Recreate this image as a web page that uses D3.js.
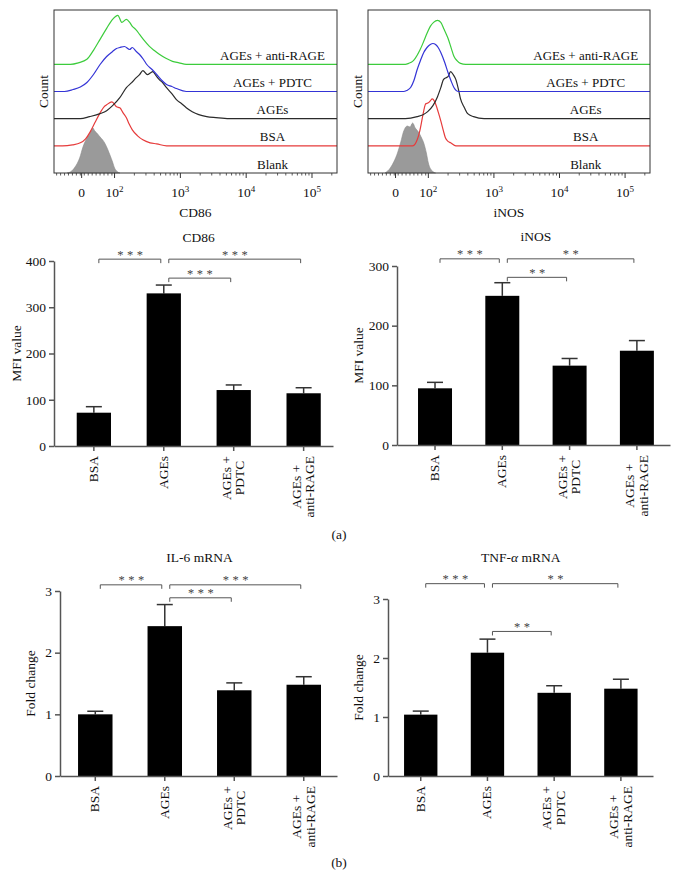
<!DOCTYPE html>
<html><head><meta charset="utf-8">
<script src="https://cdn.jsdelivr.net/npm/d3@7"></script>
<style>
body{margin:0;background:#fff}
svg{display:block}
text{font-family:"Liberation Serif","Times New Roman",serif;fill:#111}
</style>
</head><body><svg id="c" width="679" height="879"></svg>
<script>
// ---------------- DATA ----------------
// Flow histograms: [display decade (log10 units; "0" shown at 1.5), count % of max]
const histLabels = ["Blank", "BSA", "AGEs", "AGEs + PDTC", "AGEs + anti-RAGE"];
const histColors = ["#9a9a9a", "#e63b3b", "#2b2b2b", "#3434d6", "#3ccc3c"];
const histTickVals = [1.5, 2, 3, 4, 5];
const histTickLabels = [["0", ""], ["10", "2"], ["10", "3"], ["10", "4"], ["10", "5"]];

const cd86Blank = [[1.28,0],[1.34,3],[1.40,12],[1.47,30],[1.52,52],[1.58,70],[1.63,80],[1.67,90],[1.70,84],[1.73,80],[1.78,72],[1.82,66],[1.85,60],[1.90,46],[1.93,36],[1.97,22],[2.00,10],[2.04,3],[2.08,0]];
const cd86BSA = [[1.21,0],[1.36,2],[1.48,6],[1.56,14],[1.63,28],[1.70,46],[1.78,66],[1.84,78],[1.88,82],[1.96,88],[2.03,78],[2.08,76],[2.13,66],[2.18,56],[2.22,44],[2.27,32],[2.35,20],[2.43,12],[2.54,6],[2.64,4],[2.79,0]];
const cd86AGEs = [[1.48,0],[1.62,4],[1.78,10],[1.88,16],[1.97,26],[2.08,42],[2.18,62],[2.26,72],[2.33,82],[2.38,88],[2.43,96],[2.50,88],[2.55,92],[2.58,94],[2.63,86],[2.68,78],[2.73,72],[2.79,62],[2.87,50],[2.94,38],[3.02,30],[3.09,22],[3.18,14],[3.28,8],[3.40,4],[3.54,2],[3.74,0]];
const cd86PDTC = [[1.24,0],[1.37,4],[1.48,9],[1.58,18],[1.68,34],[1.78,54],[1.88,70],[1.97,80],[2.03,86],[2.08,88],[2.15,90],[2.23,84],[2.27,88],[2.33,80],[2.38,74],[2.44,64],[2.49,54],[2.57,44],[2.64,34],[2.72,22],[2.79,14],[2.87,10],[2.94,6],[3.09,0]];
const cd86Rage = [[1.33,0],[1.45,3],[1.58,10],[1.68,28],[1.78,50],[1.88,72],[1.97,90],[2.05,98],[2.11,84],[2.18,90],[2.23,84],[2.27,76],[2.32,70],[2.38,60],[2.45,48],[2.53,36],[2.60,28],[2.68,20],[2.78,12],[2.88,6],[2.98,3],[3.09,0]];

const inosBlank = [[1.34,0],[1.42,10],[1.48,24],[1.53,40],[1.58,62],[1.62,82],[1.68,94],[1.72,92],[1.76,100],[1.80,90],[1.85,82],[1.89,72],[1.93,60],[1.97,40],[2.00,20],[2.06,4],[2.11,0]];
const inosBSA = [[1.76,0],[1.80,4],[1.83,12],[1.87,30],[1.90,50],[1.93,70],[1.96,84],[2.00,86],[2.03,90],[2.06,94],[2.09,90],[2.11,84],[2.15,68],[2.19,50],[2.23,30],[2.26,16],[2.30,9],[2.34,6],[2.42,0]];
const inosAGEs = [[1.65,0],[1.83,4],[1.92,8],[1.99,14],[2.07,26],[2.14,44],[2.19,62],[2.23,78],[2.27,82],[2.30,84],[2.34,94],[2.38,88],[2.42,78],[2.46,58],[2.49,40],[2.55,22],[2.60,10],[2.69,4],[2.85,0]];
const inosPDTC = [[1.62,0],[1.67,2],[1.73,8],[1.78,22],[1.83,44],[1.88,62],[1.93,78],[1.98,88],[2.03,94],[2.07,96],[2.11,94],[2.15,88],[2.19,78],[2.25,58],[2.30,38],[2.35,20],[2.39,8],[2.46,0]];
const inosRage = [[1.65,0],[1.70,2],[1.76,6],[1.80,12],[1.87,28],[1.93,46],[1.98,62],[2.03,76],[2.08,84],[2.14,88],[2.19,84],[2.24,70],[2.30,52],[2.35,32],[2.39,16],[2.44,7],[2.49,2],[2.57,0]];

// Bar charts
const categories = [["BSA"], ["AGEs"], ["AGEs +", "PDTC"], ["AGEs +", "anti-RAGE"]];
const cd86Mean = [72, 330, 121, 114];
const cd86Err  = [13, 18, 11, 12];
const cd86Ticks = [0, 100, 200, 300, 400];
const cd86Sig = [[0, 1, 404, "***"], [1, 3, 404, "***"], [1, 2, 363, "***"]];

const inosMean = [95, 250, 133, 158];
const inosErr  = [10, 22, 12, 17];
const inosTicks = [0, 100, 200, 300];
const inosSig = [[0, 1, 312, "***"], [1, 3, 312, "**"], [1, 2, 281, "**"]];

const il6Mean = [1.0, 2.43, 1.39, 1.48];
const il6Err  = [0.05, 0.35, 0.12, 0.13];
const il6Ticks = [0, 1, 2, 3];
const il6Sig = [[0, 1, 3.10, "***"], [1, 3, 3.10, "***"], [1, 2, 2.89, "***"]];

const tnfMean = [1.04, 2.09, 1.41, 1.48];
const tnfErr  = [0.06, 0.23, 0.12, 0.16];
const tnfTicks = [0, 1, 2, 3];
const tnfSig = [[0, 1, 3.26, "***"], [1, 3, 3.26, "**"], [1, 2, 2.45, "**"]];

// ---------------- DRAWING ----------------
const svg = d3.select("#c");
const FS = 13.5;

function drawHist(o) {
  const x = d3.scaleLinear().domain([1.08, 5.38]).range([o.x0, o.x1]);
  const rowH = (o.y1 - o.y0) / 6;
  const h = d3.scaleLinear().domain([0, 100]).range([0, 50]);
  const g = svg.append("g");
  const dom = x.domain();
  o.series.forEach((s, i) => {
    const base = o.y1 - i * rowH;
    if (i === 0) {
      g.append("path").datum(s)
        .attr("d", d3.area().x(d => x(d[0])).y0(base).y1(d => base - h(d[1])).curve(d3.curveMonotoneX))
        .attr("fill", histColors[0]).attr("stroke", "#8a8a8a").attr("stroke-width", 0.6);
    } else {
      const pts = [[dom[0], 0]].concat(s, [[dom[1], 0]]);
      g.append("path").datum(pts)
        .attr("d", d3.line().x(d => x(d[0])).y(d => base - h(d[1])).curve(d3.curveMonotoneX))
        .attr("fill", "none").attr("stroke", histColors[i]).attr("stroke-width", 1.2);
    }
    g.append("text").attr("x", x(4.4)).attr("y", base - 4.5)
      .attr("text-anchor", "middle").attr("font-size", FS - 0.5).text(histLabels[i]);
  });
  // frame
  g.append("rect").attr("x", o.x0).attr("y", o.y0).attr("width", o.x1 - o.x0).attr("height", o.y1 - o.y0)
    .attr("fill", "none").attr("stroke", "#333").attr("stroke-width", 1);
  // minor ticks
  const minor = [];
  for (let v = 1.12; v < 2; v += 0.06) minor.push(v);
  for (let n = 2; n <= 5; n++) for (let m = 2; m <= 9; m++) {
    const v = n + Math.log10(m);
    if (v < dom[1]) minor.push(v);
  }
  g.selectAll(null).data(minor).join("line")
    .attr("x1", d => x(d)).attr("x2", d => x(d)).attr("y1", o.y1).attr("y2", o.y1 + 2.5)
    .attr("stroke", "#333").attr("stroke-width", 0.8);
  g.selectAll(null).data(histTickVals).join("line")
    .attr("x1", d => x(d)).attr("x2", d => x(d)).attr("y1", o.y1).attr("y2", o.y1 + 5)
    .attr("stroke", "#333").attr("stroke-width", 1);
  histTickVals.forEach((v, i) => {
    const t = g.append("text").attr("x", x(v)).attr("y", o.y1 + 24).attr("text-anchor", "middle").attr("font-size", FS);
    t.append("tspan").text(histTickLabels[i][0]);
    if (histTickLabels[i][1]) t.append("tspan").attr("font-size", 9).attr("dy", -5).text(histTickLabels[i][1]);
  });
  g.append("text").attr("x", (o.x0 + o.x1) / 2).attr("y", o.y1 + 44).attr("text-anchor", "middle")
    .attr("font-size", FS).text(o.xlabel);
  g.append("text").attr("transform", `translate(${o.x0 - 6.5},${(o.y0 + o.y1) / 2}) rotate(-90)`)
    .attr("text-anchor", "middle").attr("font-size", FS).text("Count");
}

function drawBar(o) {
  const y = d3.scaleLinear().domain([0, d3.max(o.ticks)]).range([o.y0, o.yTop]);
  const x = d3.scaleBand().domain(d3.range(categories.length)).range([o.x0, o.x1])
    .paddingInner(o.pi).paddingOuter(o.po).align(o.align);
  const bw = x.bandwidth();
  const cx = i => x(i) + bw / 2;
  const g = svg.append("g");

  // error bars (upper only)
  o.mean.forEach((m, i) => {
    g.append("line").attr("x1", cx(i)).attr("x2", cx(i)).attr("y1", y(m)).attr("y2", y(m + o.err[i]))
      .attr("stroke", "#333").attr("stroke-width", 1.5);
    g.append("line").attr("x1", cx(i) - 8).attr("x2", cx(i) + 8).attr("y1", y(m + o.err[i])).attr("y2", y(m + o.err[i]))
      .attr("stroke", "#333").attr("stroke-width", 1.5);
  });
  g.selectAll("rect.bar").data(o.mean).join("rect").attr("class", "bar")
    .attr("x", (d, i) => x(i)).attr("width", bw)
    .attr("y", d => y(d)).attr("height", d => o.y0 - y(d)).attr("fill", "#000");

  // axes
  const ya = g.append("g").attr("transform", `translate(${o.x0},0)`)
    .call(d3.axisLeft(y).tickValues(o.ticks).tickSize(5).tickSizeOuter(0).tickPadding(3).tickFormat(d3.format("d")));
  const xa = g.append("g").attr("transform", `translate(0,${o.y0})`)
    .call(d3.axisBottom(x).tickSize(5).tickSizeOuter(0).tickFormat(""));
  [ya, xa].forEach(a => {
    a.attr("font-family", null).attr("font-size", null);
    a.selectAll("path,line").attr("stroke", "#555").attr("stroke-width", 1.5);
    a.selectAll("text").attr("font-size", FS).attr("fill", "#111");
  });

  // category labels (rotated)
  categories.forEach((lines, i) => {
    const lg = g.append("g").attr("transform", `translate(${cx(i)},${o.y0 + 10}) rotate(-90)`);
    const n = lines.length;
    const ts = lines.map(s => lg.append("text").attr("font-size", FS).text(s));
    if (n === 1) {
      ts[0].attr("text-anchor", "end").attr("x", 0).attr("y", 4);
    } else {
      const mw = d3.max(ts, t => t.node().getComputedTextLength());
      ts.forEach((t, j) => t.attr("text-anchor", "middle").attr("x", -mw / 2)
        .attr("y", 4 + (j - (n - 1) / 2) * 13.5));
    }
  });

  // significance brackets
  o.sig.forEach(([a, b, v, lab]) => {
    const xa1 = cx(a) + 5, xb1 = cx(b) - 3, yy = y(v);
    g.append("path").attr("d", `M${xa1},${yy + 4}V${yy}H${xb1}V${yy + 4}`)
      .attr("fill", "none").attr("stroke", "#555").attr("stroke-width", 1);
    g.append("text").attr("x", (xa1 + xb1) / 2 + 2).attr("y", yy - 0.5).attr("text-anchor", "middle")
      .attr("font-size", 12.5).attr("letter-spacing", 3.5).style("fill", "#444").text(lab);
  });

  // title
  const tx = (x(0) + x(categories.length - 1) + bw) / 2;
  const t = g.append("text").attr("x", tx).attr("y", o.titleY).attr("text-anchor", "middle").attr("font-size", FS);
  o.title.forEach(p => {
    const s = t.append("tspan").text(p[0]);
    if (p[1]) s.attr("font-style", "italic");
  });
  // y label
  g.append("text").attr("transform", `translate(${o.ylx},${(o.y0 + o.yTop) / 2}) rotate(-90)`)
    .attr("text-anchor", "middle").attr("font-size", FS).text(o.ylabel);
}

drawHist({x0: 54, x1: 337, y0: 10, y1: 173, xlabel: "CD86",
  series: [cd86Blank, cd86BSA, cd86AGEs, cd86PDTC, cd86Rage]});
drawHist({x0: 368, x1: 650, y0: 10, y1: 173, xlabel: "iNOS",
  series: [inosBlank, inosBSA, inosAGEs, inosPDTC, inosRage]});

drawBar({x0: 54, x1: 333, y0: 446, yTop: 261, pi: 0.51, po: 0.25, align: 0.65,
  mean: cd86Mean, err: cd86Err, ticks: cd86Ticks, sig: cd86Sig,
  title: [["CD86"]], titleY: 242, ylabel: "MFI value", ylx: 20.5});
drawBar({x0: 397, x1: 670, y0: 445, yTop: 266, pi: 0.495, po: 0.276, align: 0.566,
  mean: inosMean, err: inosErr, ticks: inosTicks, sig: inosSig,
  title: [["iNOS"]], titleY: 241, ylabel: "MFI value", ylx: 362.5});
drawBar({x0: 60, x1: 337, y0: 776, yTop: 591, pi: 0.504, po: 0.245, align: 0.53,
  mean: il6Mean, err: il6Err, ticks: il6Ticks, sig: il6Sig,
  title: [["IL-6 mRNA"]], titleY: 562, ylabel: "Fold change", ylx: 34.5});
drawBar({x0: 388, x1: 653, y0: 776, yTop: 599, pi: 0.5, po: 0.236, align: 0.51,
  mean: tnfMean, err: tnfErr, ticks: tnfTicks, sig: tnfSig,
  title: [["TNF-"], ["α", true], [" mRNA"]], titleY: 562, ylabel: "Fold change", ylx: 362.5});

svg.append("text").attr("x", 339).attr("y", 539).attr("text-anchor", "middle").attr("font-size", FS).text("(a)");
svg.append("text").attr("x", 339).attr("y", 867).attr("text-anchor", "middle").attr("font-size", FS).text("(b)");
</script>
</body></html>
